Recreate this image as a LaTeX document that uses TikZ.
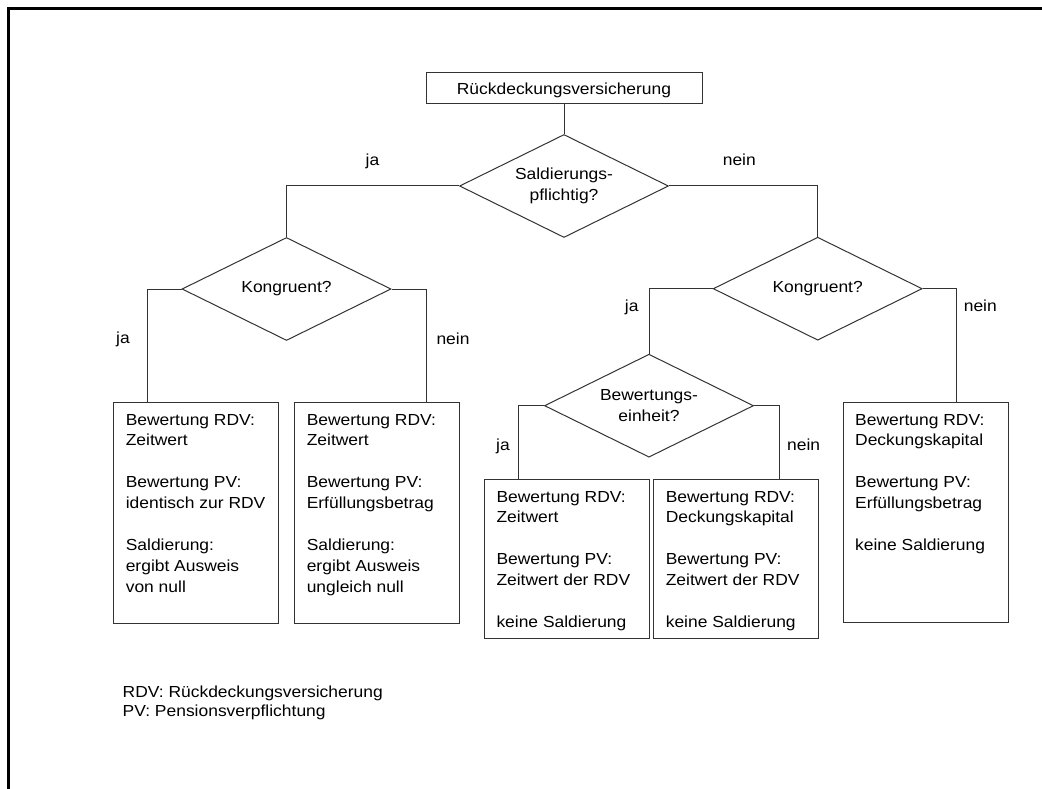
\documentclass[tikz,border=0pt]{standalone}
\usepackage{fontspec}
\setmainfont[FakeStretch=1.09]{Liberation Sans}
\usetikzlibrary{shapes.geometric}
\newcommand{\chartfont}{\fontsize{16}{20.9}\selectfont}
\newcommand{\boxtext}[2]{\parbox[c][#1][t]{141pt}{\raggedright #2}}

\begin{document}
\begin{tikzpicture}[x=1pt, y=-1pt]
  \def\linecol{black!80}
  \tikzstyle{start} = [rectangle, draw=\linecol, line width=1pt, minimum width=276pt, minimum height=31pt, inner sep=0pt, text depth=0pt, font=\chartfont]
  \tikzstyle{decision} = [diamond, aspect=2, draw=\linecol, line width=1pt, minimum width=209pt, minimum height=103pt, inner sep=0pt, align=center, font=\chartfont]
  \tikzstyle{result} = [rectangle, draw=\linecol, line width=1pt, anchor=north west, inner xsep=12pt, inner ysep=11.2pt, font=\chartfont]
  \tikzstyle{answer} = [anchor=base, inner sep=0pt, font=\chartfont]
  \tikzstyle{link} = [draw=\linecol, line width=1pt]

  \useasboundingbox (0,0) rectangle (1042,789);
  \draw[line width=2.7pt] (8.7,789) |- (1042,8.8);

  % questions
  \node[start] (rdv) at (564,88.5) {Rückdeckungsversicherung};
  \node[decision] (sald) at (564,186) {Saldierungs-\\pflichtig?};
  \node[decision] (kongl) at (286.5,289) {Kongruent?};
  \node[decision] (kongr) at (817.7,288.7) {Kongruent?};
  \node[decision] (bew) at (649,405.7) {Bewertungs-\\einheit?};

  % outcomes
  \node[result] (kl-ja) at (113.3,402.3) {\boxtext{198pt}{Bewertung RDV:\\Zeitwert\\[\baselineskip]Bewertung PV:\\identisch zur RDV\\[\baselineskip]Saldierung:\\ergibt Ausweis\\von null}};
  \node[result] (kl-nein) at (294.3,402.3) {\boxtext{198pt}{Bewertung RDV:\\Zeitwert\\[\baselineskip]Bewertung PV:\\Erfüllungsbetrag\\[\baselineskip]Saldierung:\\ergibt Ausweis\\ungleich null}};
  \node[result] (be-ja) at (484,479.3) {\boxtext{136.6pt}{Bewertung RDV:\\Zeitwert\\[\baselineskip]Bewertung PV:\\Zeitwert der RDV\\[\baselineskip]keine Saldierung}};
  \node[result] (be-nein) at (653.3,479.3) {\boxtext{136.6pt}{Bewertung RDV:\\Deckungskapital\\[\baselineskip]Bewertung PV:\\Zeitwert der RDV\\[\baselineskip]keine Saldierung}};
  \node[result] (kr-nein) at (842.7,402.3) {\boxtext{197.6pt}{Bewertung RDV:\\Deckungskapital\\[\baselineskip]Bewertung PV:\\Erfüllungsbetrag\\[\baselineskip]keine Saldierung}};

  % connectors
  \draw[link] (rdv) -- (sald);
  \draw[link] (sald.west) -| (kongl.north);
  \draw[link] (sald.east) -| (kongr.north);
  \draw[link] (kongl.west) -| ([xshift=34pt]kl-ja.north west);
  \draw[link] (kongl.east) -| ([xshift=-34pt]kl-nein.north east);
  \draw[link] (kongr.west) -| (bew.north);
  \draw[link] (kongr.east) -| ([xshift=-52pt]kr-nein.north east);
  \draw[link] (bew.west) -| ([xshift=34pt]be-ja.north west);
  \draw[link] (bew.east) -| ([xshift=-40pt]be-nein.north east);

  % answers
  \node[answer] (ja1) at (372.5,166) {ja};
  \node[answer] (nein1) at (739.3,166) {nein};
  \node[answer] (ja2) at (123,343.3) {ja};
  \node[answer] (nein2) at (453,344.3) {nein};
  \node[answer] (ja3) at (631.7,311.7) {ja};
  \node[answer] (nein3) at (980.3,311.7) {nein};
  \node[answer] (ja4) at (503,450) {ja};
  \node[answer] (nein4) at (803.7,450) {nein};

  \node[anchor=north west, inner sep=0pt, align=left, font={\fontsize{16}{19}\selectfont}] (legend) at (122.5,686.2) {RDV: Rückdeckungsversicherung\\PV: Pensionsverpflichtung};
\end{tikzpicture}
\end{document}
